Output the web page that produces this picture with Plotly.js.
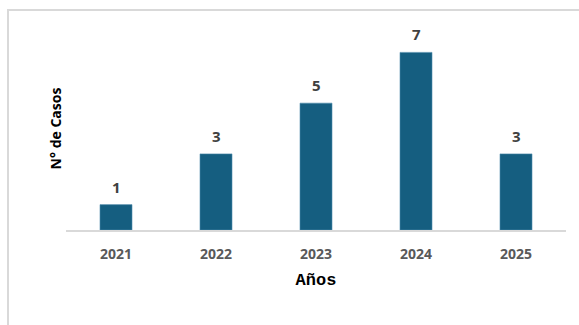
<!DOCTYPE html>
<html>
<head>
<meta charset="utf-8">
<script src="https://cdn.plot.ly/plotly-3.0.1.min.js"></script>
<style>
html,body{margin:0;padding:0;overflow:hidden;background:#fff;width:579px;height:325px;}
#frame{position:absolute;left:7px;top:9px;width:580px;height:330px;border-left:2px solid #d9d9d9;border-top:2px solid #d9d9d9;pointer-events:none;z-index:5;}
#chart{position:absolute;left:0;top:0;width:579px;height:325px;}
</style>
</head>
<body>
<div id="chart"></div>
<div id="frame"></div>
<script>
const years = ['2021', '2022', '2023', '2024', '2025'];
const cases = [1, 3, 5, 7, 3];
const barColor = '#155e80';

const trace = {
  type: 'bar',
  x: years,
  y: cases,
  textposition: 'none',
  marker: {color: barColor, line: {color: '#4f8bab', width: 0.6}},
  hoverinfo: 'none'
};

const annotations = cases.map((v, i) => ({
  x: i, y: v, xref: 'x', yref: 'y',
  text: String(v), showarrow: false,
  yanchor: 'middle', yshift: 18,
  font: {family: 'Open Sans', size: 15, color: '#404040', weight: 'bold'}
}));

const layout = {
  width: 579, height: 325,
  margin: {l: 66, r: 13, t: 27, b: 95},
  paper_bgcolor: '#fff', plot_bgcolor: '#fff',
  bargap: 0.68,
  showlegend: false,
  annotations: annotations,
  xaxis: {
    type: 'category',
    range: [-0.5, 4.5],
    showline: true, linecolor: '#d9d9d9', linewidth: 2,
    ticks: '', ticklabelstandoff: 10,
    tickfont: {family: 'Open Sans', size: 14, color: '#595959', weight: 'bold'},
    title: {text: 'Años', standoff: 11,
      font: {family: 'Liberation Mono', size: 17, color: '#000', weight: 'bold'}},
    fixedrange: true
  },
  yaxis: {
    range: [0, 8],
    showgrid: false, zeroline: false, showline: false,
    showticklabels: false, ticks: '',
    title: {text: 'N° de Casos', standoff: 0,
      font: {family: 'Open Sans', size: 14, color: '#000', weight: 'bold'}},
    fixedrange: true
  }
};

Plotly.newPlot('chart', [trace], layout, {displayModeBar: false, staticPlot: true});
</script>
</body>
</html>
